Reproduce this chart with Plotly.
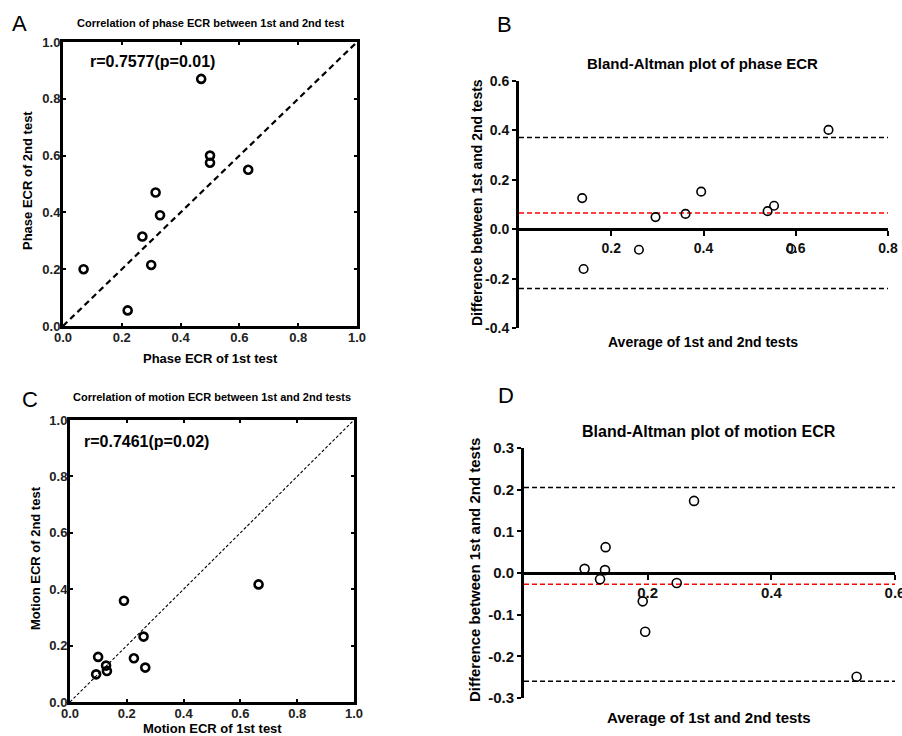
import plotly.graph_objects as go

W, H = 902, 736

# ---------------- data ----------------
phase_ecr_1st = [0.07, 0.22, 0.27, 0.30, 0.315, 0.33, 0.47, 0.50, 0.50, 0.63]
phase_ecr_2nd = [0.20, 0.055, 0.315, 0.215, 0.47, 0.39, 0.87, 0.60, 0.575, 0.55]

phase_ba_avg = [0.137, 0.140, 0.260, 0.296, 0.361, 0.395, 0.539, 0.553, 0.590, 0.671]
phase_ba_diff = [0.126, -0.161, -0.083, 0.049, 0.062, 0.152, 0.073, 0.095, -0.080, 0.402]
phase_ba_bias = 0.066
phase_ba_upper = 0.371
phase_ba_lower = -0.240

motion_ecr_1st = [0.092, 0.099, 0.127, 0.130, 0.190, 0.225, 0.259, 0.265, 0.664]
motion_ecr_2nd = [0.098, 0.160, 0.129, 0.110, 0.359, 0.155, 0.232, 0.122, 0.417]

motion_ba_avg = [0.098, 0.123, 0.131, 0.132, 0.192, 0.196, 0.247, 0.275, 0.538]
motion_ba_diff = [0.010, -0.015, 0.007, 0.062, -0.068, -0.141, -0.024, 0.173, -0.249]
motion_ba_bias = -0.027
motion_ba_upper = 0.205
motion_ba_lower = -0.260

identity_line = [0.0, 1.0]
phase_ba_xspan = [0.0, 0.8]
motion_ba_xspan = [0.0, 0.6]

corr_ticks = [0.0, 0.2, 0.4, 0.6, 0.8, 1.0]
corr_ticktext = ["0.0", "0.2", "0.4", "0.6", "0.8", "1.0"]
phase_ba_xticks = [0.2, 0.4, 0.6, 0.8]
phase_ba_xtext = ["0.2", "0.4", "0.6", "0.8"]
phase_ba_yticks = [-0.4, -0.2, 0.0, 0.2, 0.4, 0.6]
phase_ba_ytext = ["-0.4", "-0.2", "0.0", "0.2", "0.4", "0.6"]
motion_ba_xticks = [0.2, 0.4, 0.6]
motion_ba_xtext = ["0.2", "0.4", "0.6"]
motion_ba_yticks = [-0.3, -0.2, -0.1, 0.0, 0.1, 0.2, 0.3]
motion_ba_ytext = ["-0.3", "-0.2", "-0.1", "0.0", "0.1", "0.2", "0.3"]

# ---------------- helpers ----------------
FONT = "Liberation Sans, Arial, sans-serif"


def xd(a, b):
    return [a / W, b / W]


def yd(top, bottom):
    return [1 - bottom / H, 1 - top / H]


def px(x):
    return x / W


def py(y):
    return 1 - y / H


def bold(lst):
    return ["<b>%s</b>" % t for t in lst]


domA = (xd(63, 357), yd(42, 326))
domB = (xd(519, 888), yd(81, 328))
domC = (xd(70, 354), yd(420, 702))
domD = (xd(524, 895), yd(448, 698))

fig = go.Figure()

# ----- Panel A -----
fig.add_trace(go.Scatter(x=identity_line, y=identity_line, mode="lines",
                         line=dict(color="black", width=2.2, dash="6px,4px"),
                         xaxis="x", yaxis="y", hoverinfo="skip"))
fig.add_trace(go.Scatter(x=phase_ecr_1st, y=phase_ecr_2nd, mode="markers",
                         marker=dict(symbol="circle-open", size=8, color="black",
                                     line=dict(width=2.6, color="black")),
                         xaxis="x", yaxis="y"))

# ----- Panel B -----
for val, col in [(phase_ba_upper, "black"), (phase_ba_bias, "red"), (phase_ba_lower, "black")]:
    fig.add_trace(go.Scatter(x=phase_ba_xspan, y=[val, val], mode="lines",
                             line=dict(color=col, width=1.5, dash="5px,3px"),
                             xaxis="x2", yaxis="y2", hoverinfo="skip"))
fig.add_trace(go.Scatter(x=phase_ba_avg, y=phase_ba_diff, mode="markers",
                         marker=dict(symbol="circle-open", size=8.5, color="black",
                                     line=dict(width=1.6, color="black")),
                         xaxis="x2", yaxis="y2"))

# ----- Panel C -----
fig.add_trace(go.Scatter(x=identity_line, y=identity_line, mode="lines",
                         line=dict(color="black", width=1.1, dash="3px,2px"),
                         xaxis="x3", yaxis="y3", hoverinfo="skip"))
fig.add_trace(go.Scatter(x=motion_ecr_1st, y=motion_ecr_2nd, mode="markers",
                         marker=dict(symbol="circle-open", size=8, color="black",
                                     line=dict(width=2.6, color="black")),
                         xaxis="x3", yaxis="y3"))

# ----- Panel D -----
for val, col in [(motion_ba_upper, "black"), (motion_ba_bias, "red"), (motion_ba_lower, "black")]:
    fig.add_trace(go.Scatter(x=motion_ba_xspan, y=[val, val], mode="lines",
                             line=dict(color=col, width=1.5, dash="5px,3px"),
                             xaxis="x4", yaxis="y4", hoverinfo="skip"))
fig.add_trace(go.Scatter(x=motion_ba_avg, y=motion_ba_diff, mode="markers",
                         marker=dict(symbol="circle-open", size=9, color="black",
                                     line=dict(width=1.6, color="black")),
                         xaxis="x4", yaxis="y4"))

tickfont_corr = dict(family=FONT, size=13, color="#222")
tickfont_B = dict(family=FONT, size=14, color="#111")
tickfont_D = dict(family=FONT, size=15, color="#111")


def corr_axis(domain, anchor):
    return dict(domain=domain, anchor=anchor, range=[0, 1], tickvals=corr_ticks,
                ticktext=bold(corr_ticktext), showline=True, linewidth=3, linecolor="#000000",
                mirror="ticks", ticks="inside", ticklen=3, tickwidth=2, tickcolor="#000000",
                showgrid=False, zeroline=False, tickfont=tickfont_corr, automargin=False,
                ticklabelstandoff=-3)


def free_pos(dom_y, rng):
    lo, hi = dom_y
    return lo + (0 - rng[0]) / (rng[1] - rng[0]) * (hi - lo)


rngB = [-0.4, 0.6]
rngD = [-0.3, 0.3]


def ba_x(domain, pos, rng, vals, text, tf):
    return dict(domain=domain, anchor="free", position=pos, range=rng, tickvals=vals,
                ticktext=bold(text), showline=True, linewidth=3, linecolor="#000000",
                ticks="outside", ticklen=5, tickwidth=2, tickcolor="#000000",
                showgrid=False, zeroline=False, tickfont=tf, automargin=False,
                ticklabeloverflow="allow")


def ba_y(domain, anchor, rng, vals, text, tf):
    return dict(domain=domain, anchor=anchor, range=rng, tickvals=vals,
                ticktext=bold(text), showline=True, linewidth=3, linecolor="#000000",
                ticks="outside", ticklen=4, tickwidth=2, tickcolor="#000000",
                showgrid=False, zeroline=False, tickfont=tf, automargin=False)


fig.update_layout(
    template="none",
    width=W, height=H, margin=dict(l=0, r=0, t=0, b=0, autoexpand=False),
    paper_bgcolor="white", plot_bgcolor="white", showlegend=False,
    font=dict(family=FONT, color="black"),
    xaxis=corr_axis(domA[0], "y"),
    yaxis=corr_axis(domA[1], "x"),
    xaxis3=corr_axis(domC[0], "y3"),
    yaxis3=corr_axis(domC[1], "x3"),
    xaxis2=ba_x(domB[0], free_pos(domB[1], rngB), [0, 0.8], phase_ba_xticks, phase_ba_xtext, tickfont_B),
    yaxis2=ba_y(domB[1], "x2", rngB, phase_ba_yticks, phase_ba_ytext, tickfont_B),
    xaxis4=ba_x(domD[0], free_pos(domD[1], rngD), [0, 0.6], motion_ba_xticks, motion_ba_xtext, tickfont_D),
    yaxis4=ba_y(domD[1], "x4", rngD, motion_ba_yticks, motion_ba_ytext, tickfont_D),
)


def ann(text, x, y, size, is_bold=True, angle=0, color="black"):
    fig.add_annotation(text=("<b>%s</b>" % text) if is_bold else text,
                       x=px(x), y=py(y), xref="paper", yref="paper",
                       showarrow=False, textangle=angle, xanchor="center", yanchor="middle",
                       font=dict(family=FONT, size=size, color=color))


# panel letters
ann("A", 19.5, 23, 22, is_bold=False)
ann("B", 505, 24, 22, is_bold=False)
ann("C", 29.5, 399, 22, is_bold=False)
ann("D", 505.5, 396, 22, is_bold=False)

# titles
ann("Correlation of phase ECR between 1st and 2nd test", 210, 23, 11)
ann("Bland-Altman plot of phase ECR", 702.5, 63, 15)
ann("Correlation of motion ECR between 1st and 2nd tests", 212, 397, 11)
ann("Bland-Altman plot of motion ECR", 709, 431, 16)

# r annotations
ann("r=0.7577(p=0.01)", 152, 62, 16)
ann("r=0.7461(p=0.02)", 146, 442, 16)

# axis titles
ann("Phase ECR of 1st test", 210, 358, 13)
ann("Phase ECR of 2nd test", 27, 181, 13, angle=-90)
ann("Average of 1st and 2nd tests", 703, 342, 14)
ann("Difference between 1st and 2nd tests", 477, 203, 14, angle=-90)
ann("Motion ECR of 1st test", 212.5, 728.5, 13)
ann("Motion ECR of 2nd test", 35, 558, 13, angle=-90)
ann("Average of 1st and 2nd tests", 709, 717, 15)
ann("Difference between 1st and 2nd tests", 474, 570, 15, angle=-90)

fig.write_html("out.html")
